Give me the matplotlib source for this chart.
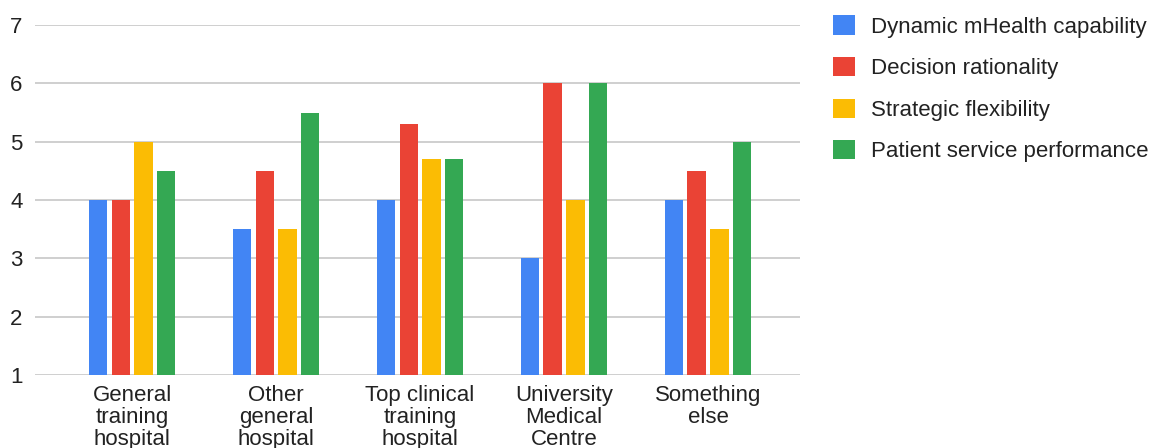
import matplotlib
matplotlib.use("Agg")
import matplotlib.pyplot as plt
import numpy as np

plt.rcParams['font.family'] = ['Liberation Sans', 'DejaVu Sans']

categories = ["General\ntraining\nhospital", "Other\ngeneral\nhospital",
              "Top clinical\ntraining\nhospital", "University\nMedical\nCentre",
              "Something\nelse"]
series_names = ["Dynamic mHealth capability", "Decision rationality",
                "Strategic flexibility", "Patient service performance"]
dynamic_mhealth = [4.0, 3.5, 4.0, 3.0, 4.0]
decision_rationality = [4.0, 4.5, 5.3, 6.0, 4.5]
strategic_flexibility = [5.0, 3.5, 4.7, 4.0, 3.5]
patient_service = [4.5, 5.5, 4.7, 6.0, 5.0]
y_ticks = [1, 2, 3, 4, 5, 6, 7]

series = [dynamic_mhealth, decision_rationality, strategic_flexibility, patient_service]
colors = ["#4285F4", "#EA4335", "#FBBC04", "#34A853"]

W, H = 1158, 448
fig = plt.figure(figsize=(W / 100, H / 100), dpi=100)
ax = fig.add_axes([35 / W, 1 - 375 / H, (800 - 35) / W, (375 - 25) / H])

x = np.arange(len(categories))
pitch = 0.157
width = 0.128
base = 1.0
for i, (vals, col, name) in enumerate(zip(series, colors, series_names)):
    offs = (i - 1.5) * pitch
    heights = [v - base for v in vals]
    ax.bar(x + offs, heights, width=width, bottom=base, color=col, label=name,
           zorder=3, linewidth=0)

ax.set_ylim(1, 7)
ax.set_xlim(-0.674, 4.639)
ax.set_yticks(y_ticks)
ax.yaxis.grid(True, color="#cccccc", linewidth=1.3, zorder=0)
ax.set_axisbelow(True)
for s in ax.spines.values():
    s.set_visible(False)
ax.tick_params(axis='y', length=0, pad=9, labelsize=16, labelcolor="#222222")
ax.set_xticks(x)
ax.set_xticklabels(categories, fontsize=16, color="#222222", linespacing=1.08)
ax.tick_params(axis='x', length=0, pad=7)

leg = ax.legend(loc='upper left', bbox_to_anchor=(829 / W, 1 - 11 / H),
                bbox_transform=fig.transFigure, frameon=False, fontsize=16,
                handlelength=0.95, handleheight=0.95, handletextpad=0.76,
                labelspacing=0.87, borderaxespad=0, borderpad=0.2)
for t in leg.get_texts():
    t.set_color("#222222")

fig.savefig("out.png", dpi=100)
